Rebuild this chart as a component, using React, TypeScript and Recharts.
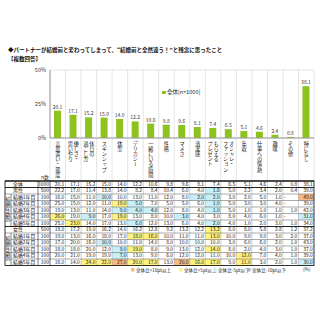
import { BarChart, Bar, XAxis, YAxis, CartesianGrid, LabelList, Legend } from "recharts";

const FONT = '"Noto Sans CJK JP", "Noto Sans", sans-serif';

const categories = [
  "言葉遣い・態度",
  "優しさ・\n思いやり",
  "休日の\n過ごし方",
  "スキンシップ",
  "体型",
  "デリカシー",
  "一緒にいる時間",
  "性格",
  "マメさ",
  "清潔感",
  "もらえる\nプレゼント",
  "オシャレ・\nファッション",
  "年収",
  "仕事への情熱",
  "趣味",
  "その他",
  "特になし",
];

const totalValues = [20.1, 17.1, 15.2, 15.0, 14.0, 12.2, 10.6, 9.8, 9.6, 8.1, 7.4, 6.5, 5.1, 4.6, 2.4, 0.8, 38.1];
const maleValues = [22.2, 17.0, 11.4, 13.8, 14.0, 8.2, 8.4, 10.4, 6.0, 4.0, 1.6, 5.0, 2.2, 3.4, 2.0, 0.4, 39.0];
const male1 = [16, 15, 11, 10, 10, 13, 11, 12, 8, 2, 2, 3, 2, 5, 1, null, 49];
const male2 = [25, 15, 12, 11, 19, 5, 7, 5, 5, 6, 1, 5, 3, 3, 4, null, 39];
const male3 = [19, 13, 11, 14, 9, 4, 4, 12, 8, 4, 1, 5, 1, 1, 1, 1, 42];
const male4 = [26, 19, 9, 17, 19, 13, 8, 10, 3, 4, 3, 8, 4, 6, 1, null, 31];
const male5 = [25, 23, 14, 17, 13, 6, 12, 13, 6, 4, 2, 4, 1, 2, 3, 1, 34];
const femaleValues = [18.0, 17.2, 19.0, 16.2, 14.0, 16.2, 12.8, 9.2, 13.2, 12.2, 13.2, 8.0, 8.0, 5.8, 2.8, 1.2, 37.2];
const female1 = [19, 13, 16, 18, 17, 18, 16, 10, 11, 11, 13, 10, 9, 9, 3, 2, 37];
const female2 = [17, 20, 16, 10, 10, 11, 14, 8, 10, 10, 10, 3, 6, 6, 2, 1, 43];
const female3 = [18, 18, 20, 12, 9, 19, 8, 9, 13, 12, 14, 8, 2, 4, 3, 1, 37];
const female4 = [20, 21, 19, 19, 7, 13, 9, 6, 12, 12, 11, 10, 12, 7, 4, 1, 39];
const female5 = [16, 14, 24, 22, 27, 20, 17, 13, 20, 16, 17, 9, 11, 3, 2, 1, 30];

const rowLabels = ["全体", "男性", "結婚1年目", "結婚2年目", "結婚3年目", "結婚4年目", "結婚5年目", "女性", "結婚1年目", "結婚2年目", "結婚3年目", "結婚4年目", "結婚5年目"];
const rowN = [1000, 500, 100, 100, 100, 100, 100, 500, 100, 100, 100, 100, 100];
const rowValues = [totalValues, maleValues, male1, male2, male3, male4, male5, femaleValues, female1, female2, female3, female4, female5];

const legendLabels = ["全体比+10pt以上", "全体比+5pt以上", "全体比-5pt以下", "全体比-10pt以下"];
const legendColors = ["#f7b983", "#fff27f", "#c8eef8", "#8fb6e3"];

const data = categories.map((name, i) => ({ name, total: totalValues[i] }));

// layout
const W = 320;
const PLOT_L = 50;
const PLOT_R = 314;
const PLOT_B = 138;
const TABLE_T = 181;
const ROW_H = 6.5;
const colW = (PLOT_R - PLOT_L) / categories.length;

function cellColor(v: number | null, i: number, row: number) {
  if (row === 0 || v == null) return null;
  const d = v - totalValues[i];
  if (d >= 10 - 1e-9) return legendColors[0];
  if (d >= 5 - 1e-9) return legendColors[1];
  if (d <= -10 + 1e-9) return legendColors[3];
  if (d <= -5 + 1e-9) return legendColors[2];
  return null;
}

function CategoryTick({ x, y, payload }: any) {
  const lines = String(payload.value).split("\n");
  const n = lines.length;
  return (
    <g>
      {lines.map((ln, i) => (
        <text
          key={i}
          x={x + ((n - 1) / 2 - i) * 6}
          y={y + 3}
          fontSize={5.2}
          fill="#222"
          fontFamily={FONT}
          style={{ writingMode: "vertical-rl" } as any}
        >
          {ln}
        </text>
      ))}
    </g>
  );
}

function LegendBox() {
  return (
    <div style={{ display: "inline-flex", alignItems: "center", fontSize: 5.5, fontFamily: FONT, color: "#222", whiteSpace: "nowrap", background: "#fff", padding: "0 1px" }}>
      <span style={{ width: 3.5, height: 3.5, background: "#8dc21f", marginRight: 1.5, display: "inline-block" }} />
      全体[n=1000]
    </div>
  );
}

function DataTable() {
  const rows = rowLabels.length;
  const bottom = TABLE_T + rows * ROW_H;
  const isYear = (r: number) => r >= 2 && r !== 7;
  const fs = 4.9;
  return (
    <svg width={W} height={320} style={{ position: "absolute", left: 0, top: 0 }} fontFamily={FONT}>
      {/* column lines under the plot */}
      {categories.map((_, i) => (
        <line key={"c" + i} x1={PLOT_L + i * colW} x2={PLOT_L + i * colW} y1={PLOT_B} y2={TABLE_T} stroke="#c8c8c8" strokeWidth={0.5} />
      ))}
      <line x1={PLOT_R} x2={PLOT_R} y1={PLOT_B} y2={TABLE_T} stroke="#c8c8c8" strokeWidth={0.5} />
      <text x={41} y={TABLE_T - 2} fontSize={4.8} fill="#222">n数</text>

      {rowValues.map((vals, r) => {
        const top = TABLE_T + r * ROW_H;
        const cy = top + ROW_H / 2 + 1.7;
        return (
          <g key={"r" + r}>
            {vals.map((v, i) => {
              const c = cellColor(v, i, r);
              return c ? <rect key={"b" + i} x={PLOT_L + i * colW} y={top} width={colW} height={ROW_H} fill={c} /> : null;
            })}
            <text x={13} y={cy} fontSize={fs} fill="#111">{rowLabels[r]}</text>
            <text x={PLOT_L - 1} y={cy} fontSize={fs} fill="#111" textAnchor="end">{rowN[r]}</text>
            {vals.map((v, i) =>
              v == null ? (
                <text key={"t" + i} x={PLOT_L + i * colW + 1} y={cy} fontSize={fs} fill="#111">-</text>
              ) : (
                <text key={"t" + i} x={PLOT_L + (i + 1) * colW - 1.2} y={cy} fontSize={fs} fill="#111" textAnchor="end">
                  {v.toFixed(1)}
                </text>
              )
            )}
            <line x1={isYear(r) && !(r === 2 || r === 8) ? 11 : 5} x2={PLOT_R} y1={top} y2={top} stroke="#555" strokeWidth={0.5} />
          </g>
        );
      })}

      {/* group labels */}
      {[2, 8].map((r) => (
        <g key={"g" + r}>
          <line x1={11} x2={11} y1={TABLE_T + r * ROW_H} y2={TABLE_T + (r + 5) * ROW_H} stroke="#333" strokeWidth={0.6} />
          <text x={8} y={TABLE_T + r * ROW_H + 3} fontSize={4.9} fill="#111" style={{ writingMode: "vertical-rl" } as any}>
            結婚年数別
          </text>
        </g>
      ))}

      {/* vertical lines */}
      {categories.map((_, i) => (
        <line key={"v" + i} x1={PLOT_L + i * colW} x2={PLOT_L + i * colW} y1={TABLE_T} y2={bottom} stroke={i === 0 ? "#222" : "#888"} strokeWidth={i === 0 ? 0.7 : 0.4} />
      ))}
      <line x1={38} x2={38} y1={TABLE_T} y2={bottom} stroke="#222" strokeWidth={0.6} />
      {[0, 1, 7].map((r) => (
        <line key={"k" + r} x1={5} x2={PLOT_R} y1={TABLE_T + r * ROW_H} y2={TABLE_T + r * ROW_H} stroke="#000" strokeWidth={0.8} />
      ))}
      <rect x={5} y={TABLE_T} width={PLOT_R - 5} height={rows * ROW_H} fill="none" stroke="#000" strokeWidth={0.8} />

      {/* highlight legend */}
      {legendLabels.map((lb, i) => {
        const lx = [131, 179, 213, 247][i];
        return (
          <g key={"l" + i}>
            <rect x={lx} y={268} width={3.5} height={3.5} fill={legendColors[i]} />
            <text x={lx + 5} y={271.6} fontSize={4.6} fill="#222">{lb}</text>
          </g>
        );
      })}
      <text x={303} y={271} fontSize={4.8} fill="#222">(%)</text>
    </svg>
  );
}

export default function App() {
  return (
    <div style={{ position: "absolute", left: 0, top: 0, width: 320, height: 320, background: "#fff", fontFamily: FONT }}>
      <div style={{ position: "absolute", left: 8, top: 46, fontSize: 5.5, fontWeight: 700, color: "#111", whiteSpace: "nowrap" }}>
        ◆パートナーが結婚前と変わってしまって、“結婚前と全然違う！”と残念に思ったこと
      </div>
      <div style={{ position: "absolute", left: 8, top: 55, fontSize: 5.5, fontWeight: 700, color: "#111", whiteSpace: "nowrap" }}>
        【複数回答】
      </div>
      <BarChart width={320} height={320} data={data} margin={{ top: 70, right: 6, bottom: 137, left: 0 }} style={{ position: "absolute", left: 0, top: 0 }}>
        <CartesianGrid
          stroke="#c8c8c8"
          strokeWidth={0.5}
          verticalCoordinatesGenerator={({ offset }: any) =>
            categories.map((_, i) => offset.left + (i * offset.width) / categories.length).concat(offset.left + offset.width)
          }
          horizontalCoordinatesGenerator={({ offset }: any) => [offset.top, offset.top + offset.height]}
        />
        <XAxis dataKey="name" interval={0} height={45} tickLine={false} tickSize={0} tickMargin={0} tick={<CategoryTick />} stroke="#999" />
        <YAxis
          width={50}
          domain={[0, 50]}
          ticks={[0, 25, 50]}
          tickFormatter={(v) => `${v}%`}
          tickLine={false}
          axisLine={{ stroke: "#999" }}
          tickSize={2}
          tickMargin={2}
          tick={{ fontSize: 5.5, fill: "#333", fontFamily: FONT }}
        />
        <Legend layout="horizontal" verticalAlign="middle" content={<LegendBox />} wrapperStyle={{ top: 75, left: 161, width: 60 }} />
        <Bar dataKey="total" fill="#8dc21f" barSize={7} isAnimationActive={false}>
          <LabelList dataKey="total" position="top" offset={2} fontSize={5} fill="#333" fontFamily={FONT} formatter={(v: any) => Number(v).toFixed(1)} />
        </Bar>
      </BarChart>
      <DataTable />
    </div>
  );
}
